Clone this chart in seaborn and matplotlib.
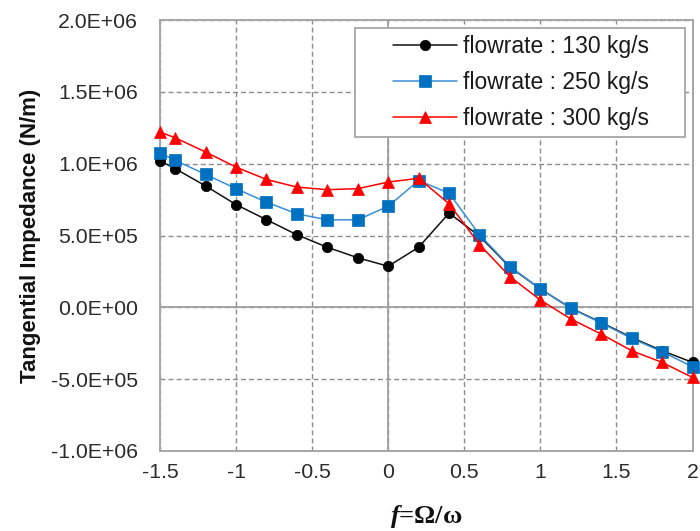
import matplotlib
matplotlib.use('Agg')
import matplotlib.pyplot as plt
import seaborn as sns
import numpy as np
import pandas as pd
from matplotlib.ticker import FuncFormatter, MultipleLocator
from matplotlib.patches import Rectangle

# ---- data ----
f_ratio = [-1.5, -1.4, -1.2, -1.0, -0.8, -0.6, -0.4, -0.2, 0.0, 0.2,
           0.4, 0.6, 0.8, 1.0, 1.2, 1.4, 1.6, 1.8, 2.0]
z_130 = [1.02e6, 0.965e6, 0.845e6, 0.715e6, 0.61e6, 0.505e6, 0.418e6, 0.345e6, 0.286e6, 0.418e6,
         0.656e6, 0.495e6, 0.28e6, 0.128e6, -0.005e6, -0.105e6, -0.21e6, -0.302e6, -0.383e6]
z_250 = [1.074e6, 1.023e6, 0.925e6, 0.826e6, 0.732e6, 0.651e6, 0.609e6, 0.609e6, 0.704e6, 0.882e6,
         0.795e6, 0.505e6, 0.284e6, 0.128e6, -0.007e6, -0.109e6, -0.216e6, -0.309e6, -0.414e6]
z_300 = [1.22e6, 1.18e6, 1.081e6, 0.976e6, 0.89e6, 0.837e6, 0.819e6, 0.826e6, 0.872e6, 0.898e6,
         0.721e6, 0.437e6, 0.214e6, 0.051e6, -0.081e6, -0.186e6, -0.302e6, -0.383e6, -0.488e6]
labels = ["flowrate : 130 kg/s", "flowrate : 250 kg/s", "flowrate : 300 kg/s"]
x_ticks = [-1.5, -1.0, -0.5, 0.0, 0.5, 1.0, 1.5, 2.0]
y_ticks = [-1.0e6, -5.0e5, 0.0, 5.0e5, 1.0e6, 1.5e6, 2.0e6]

sns.set_theme(style='white')
plt.rcParams['font.family'] = ['Liberation Sans', 'DejaVu Sans']
plt.rcParams['mathtext.fontset'] = 'custom'
plt.rcParams['mathtext.it'] = 'Liberation Serif:italic:bold'
plt.rcParams['mathtext.rm'] = 'Liberation Serif:bold'

fig = plt.figure(figsize=(7, 5.31), dpi=100)
ax = fig.add_axes([160 / 700, 1 - 451 / 531, 532.5 / 700, 431 / 531])

styles = [
    dict(y=z_130, color='#111111', mfc='#000000', marker='o', ms=7.5),
    dict(y=z_250, color='#3a8ed6', mfc='#0070C0', marker='s', ms=8),
    dict(y=z_300, color='#ff0000', mfc='#ff0000', marker='^', ms=8.5),
]
for st, lab in zip(styles, labels):
    df = pd.DataFrame({'f': f_ratio, 'Z': st['y']})
    sns.lineplot(data=df, x='f', y='Z', ax=ax, color=st['color'], marker=st['marker'],
                 markersize=st['ms'], markerfacecolor=st['mfc'], markeredgecolor=st['mfc'],
                 markeredgewidth=0.5, linewidth=1.1, label=lab, clip_on=False, zorder=5)

ax.set_xlim(-1.5, 2.0)
ax.set_ylim(-1.0e6, 2.0e6)
ax.set_xticks(x_ticks)
ax.set_yticks(y_ticks)
ax.xaxis.set_major_formatter(FuncFormatter(lambda v, p: f"{v:g}"))
ax.yaxis.set_major_formatter(FuncFormatter(lambda v, p: f"{v:.1E}"))
ax.tick_params(axis='both', length=0, labelsize=15.3, labelcolor='#2b2b2b')
ax.tick_params(axis='y', pad=16)
ax.tick_params(axis='x', pad=9)

ax.grid(True, color='#8c8c8c', linewidth=1.0, linestyle=(0, (3.6, 2.2)))
ax.axhline(0, color='#a0a0a0', linewidth=1.3, zorder=1)
ax.axvline(0, color='#a0a0a0', linewidth=1.3, zorder=1)
for s in ax.spines.values():
    s.set_color('#a6a6a6')
    s.set_linewidth(1.4)

ax.set_ylabel('Tangential Impedance (N/m)', fontsize=16, fontweight='bold', labelpad=7,
              color='#111111')
ax.set_xlabel(r'$\mathit{f}$=Ω/ω', fontsize=19, fontweight='bold',
              family=['Liberation Serif', 'DejaVu Serif'], labelpad=15, color='#111111')

# legend box
x0 = (355 - 160) / 532.5
x1 = (685 - 160) / 532.5
y1 = (451 - 28) / 431
y0 = (451 - 137) / 431
ax.add_patch(Rectangle((x0, y0), x1 - x0, y1 - y0, transform=ax.transAxes,
                       facecolor='white', edgecolor='#a6a6a6', linewidth=1.3, zorder=6))
handles, labs = ax.get_legend_handles_labels()
leg = ax.legend(handles, labs, loc='center', bbox_to_anchor=((x0 + x1) / 2 + 0.002, (y0 + y1) / 2),
                frameon=False, fontsize=16.5, handlelength=2.8, handletextpad=0.25,
                labelspacing=0.55, borderpad=0.2)
leg.set_zorder(7)
for t in leg.get_texts():
    t.set_color('#1a1a1a')

fig.savefig('out.png', dpi=100)
